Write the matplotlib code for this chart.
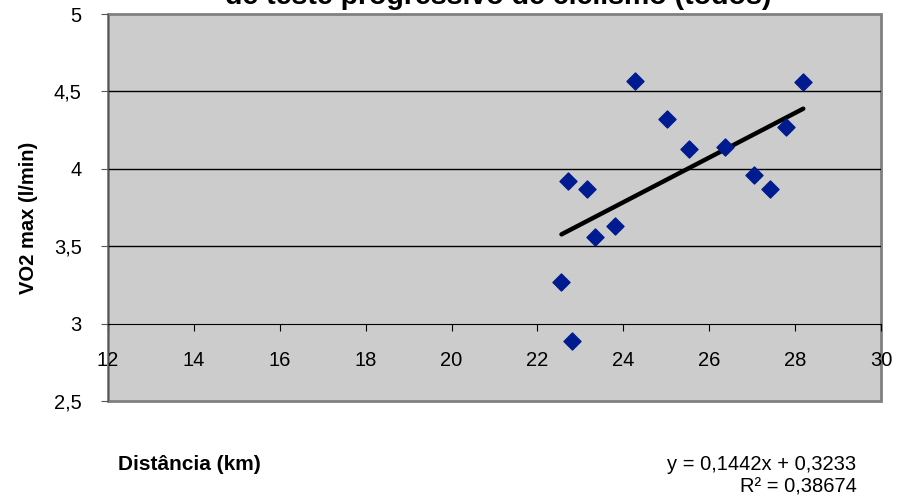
import matplotlib
matplotlib.use("Agg")
import matplotlib.pyplot as plt
import numpy as np
from matplotlib.patches import Rectangle

plt.rcParams['font.family'] = ['Liberation Sans', 'DejaVu Sans']

distancia = [22.56, 22.81, 22.72, 23.16, 23.35, 23.81, 24.28, 25.02, 25.53, 26.37, 27.05, 27.42, 27.79, 28.19]
vo2max = [3.27, 2.89, 3.92, 3.87, 3.56, 3.63, 4.57, 4.32, 4.13, 4.14, 3.96, 3.87, 4.27, 4.56]
slope = 0.1442
intercept = 0.3233
r2_text = "R² = 0,38674"
eq_text = "y = 0,1442x + 0,3233"
title = "de teste progressivo de ciclismo (todos)"
x_ticks = [12, 14, 16, 18, 20, 22, 24, 26, 28, 30]
y_ticks = [2.5, 3, 3.5, 4, 4.5, 5]
y_ticklabels = ["2,5", "3", "3,5", "4", "4,5", "5"]

fig = plt.figure(figsize=(8.97, 4.97), dpi=100)
ax = fig.add_axes([108/897, 1-401/497, (881-108)/897, (401-14)/497])
ax.set_facecolor('#cccccc')
ax.set_xlim(12, 30)
ax.set_ylim(2.5, 5)

for yv in [3.5, 4, 4.5]:
    ax.axhline(yv, color='black', lw=1.0, zorder=1)

ax.spines['top'].set_visible(False)
ax.spines['right'].set_visible(False)
ax.spines['bottom'].set_position(('data', 3))
ax.spines['bottom'].set_color('black')
ax.spines['left'].set_color('#555555')
ax.add_patch(Rectangle((0, 0), 1, 1, transform=ax.transAxes, fill=False,
                       edgecolor='#808080', lw=2.0, zorder=0.5, clip_on=False))

ax.set_xticks(x_ticks)
ax.set_xticklabels([str(v) for v in x_ticks])
ax.set_yticks(y_ticks)
ax.set_yticklabels(y_ticklabels)
ax.tick_params(axis='x', direction='out', length=5, pad=15, labelsize=14.5, color='black')
ax.tick_params(axis='y', direction='out', length=5, pad=14, labelsize=14.5, color='#555555')

ax.scatter(distancia, vo2max, marker='D', s=75, color='#001a90', zorder=3, clip_on=False)

xs = np.array([min(distancia), max(distancia)])
ax.plot(xs, slope*xs + intercept, color='black', lw=3.2, solid_capstyle='round', zorder=2)

fig.text(498/897, 1-4/497, title, ha='center', va='baseline', fontsize=20.5, fontweight='bold')
fig.text(29/897, 1-218/497, "VO2 max (l/min)", rotation=90, ha='center', va='center',
         fontsize=14.5, fontweight='bold')
fig.text(118/897, 1-465/497, "Distância (km)", ha='left', va='center', fontsize=15, fontweight='bold')
fig.text(856/897, 1-465/497, eq_text, ha='right', va='center', fontsize=14.5)
fig.text(857/897, 1-487/497, r2_text, ha='right', va='center', fontsize=14.5)

fig.savefig("out.png", dpi=100)
